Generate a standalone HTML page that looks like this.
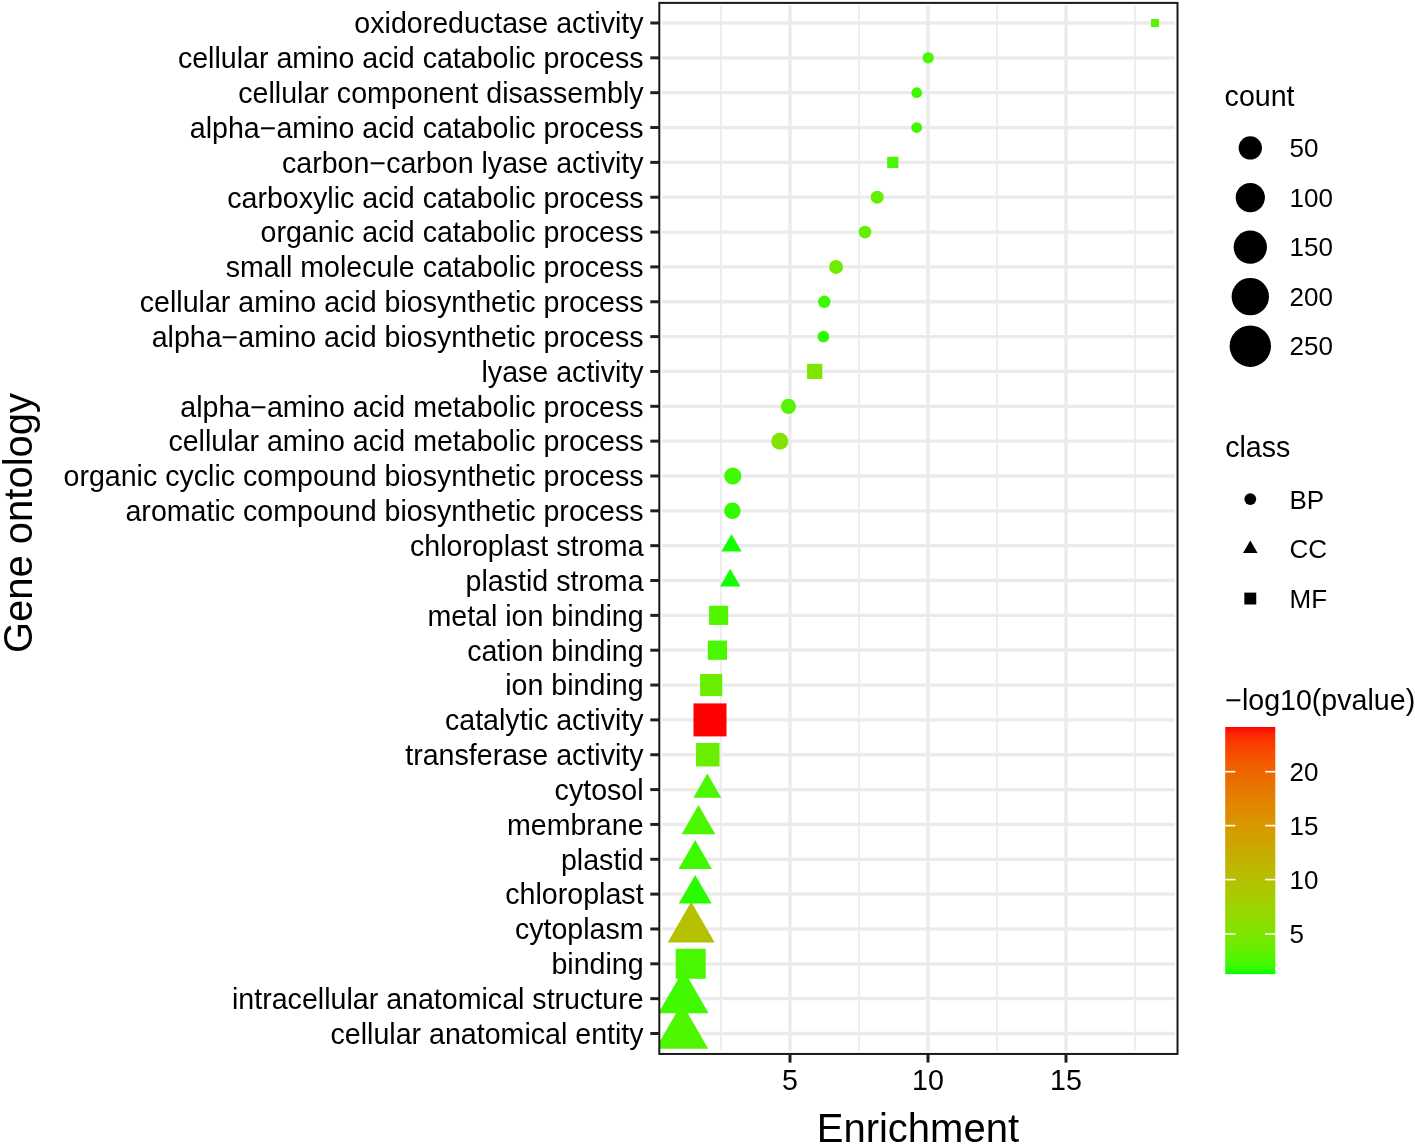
<!DOCTYPE html><html><head><meta charset="utf-8"><style>html,body{margin:0;padding:0;background:#fff;overflow:hidden;width:1415px;height:1145px;}svg{display:block;will-change:transform;}text{font-family:"Liberation Sans",sans-serif;fill:#000;}</style></head><body>
<svg width="1415" height="1145" viewBox="0 0 1415 1145">
<rect width="1415" height="1145" fill="#fff"/>
<defs><clipPath id="pc"><rect x="659.3" y="2.9" width="518.2" height="1051.05"/></clipPath>
<clipPath id="gc"><rect x="662.2" y="5.1" width="512.5" height="1045.6000000000001"/></clipPath>
<linearGradient id="cb" x1="0" y1="0" x2="0" y2="1"><stop offset="0.000" stop-color="#FF0000"/><stop offset="0.020" stop-color="#FD1E00"/><stop offset="0.040" stop-color="#FC2D00"/><stop offset="0.060" stop-color="#FA3900"/><stop offset="0.080" stop-color="#F84200"/><stop offset="0.100" stop-color="#F74A00"/><stop offset="0.120" stop-color="#F55100"/><stop offset="0.140" stop-color="#F35800"/><stop offset="0.160" stop-color="#F15E00"/><stop offset="0.180" stop-color="#EF6400"/><stop offset="0.200" stop-color="#ED6A00"/><stop offset="0.220" stop-color="#EB6F00"/><stop offset="0.240" stop-color="#E97400"/><stop offset="0.260" stop-color="#E77900"/><stop offset="0.280" stop-color="#E57E00"/><stop offset="0.300" stop-color="#E38200"/><stop offset="0.320" stop-color="#E08700"/><stop offset="0.340" stop-color="#DE8B00"/><stop offset="0.360" stop-color="#DC8F00"/><stop offset="0.380" stop-color="#D99400"/><stop offset="0.400" stop-color="#D79800"/><stop offset="0.420" stop-color="#D49C00"/><stop offset="0.440" stop-color="#D1A000"/><stop offset="0.460" stop-color="#CEA300"/><stop offset="0.480" stop-color="#CCA700"/><stop offset="0.500" stop-color="#C9AB00"/><stop offset="0.520" stop-color="#C5AF00"/><stop offset="0.540" stop-color="#C2B200"/><stop offset="0.560" stop-color="#BFB600"/><stop offset="0.580" stop-color="#BBBA00"/><stop offset="0.600" stop-color="#B8BD00"/><stop offset="0.620" stop-color="#B4C100"/><stop offset="0.640" stop-color="#B0C400"/><stop offset="0.660" stop-color="#ACC800"/><stop offset="0.680" stop-color="#A8CB00"/><stop offset="0.700" stop-color="#A4CE00"/><stop offset="0.720" stop-color="#9FD200"/><stop offset="0.740" stop-color="#9AD500"/><stop offset="0.760" stop-color="#95D800"/><stop offset="0.780" stop-color="#90DC00"/><stop offset="0.800" stop-color="#8ADF00"/><stop offset="0.820" stop-color="#84E200"/><stop offset="0.840" stop-color="#7DE600"/><stop offset="0.860" stop-color="#76E900"/><stop offset="0.880" stop-color="#6EEC00"/><stop offset="0.900" stop-color="#65EF00"/><stop offset="0.920" stop-color="#5BF200"/><stop offset="0.940" stop-color="#50F600"/><stop offset="0.960" stop-color="#41F900"/><stop offset="0.980" stop-color="#2EFC00"/><stop offset="1.000" stop-color="#00FF00"/></linearGradient></defs>
<g clip-path="url(#gc)"><line x1="721.00" y1="2.9" x2="721.00" y2="1053.95" stroke="#ebebeb" stroke-width="1.7"/><line x1="859.00" y1="2.9" x2="859.00" y2="1053.95" stroke="#ebebeb" stroke-width="1.7"/><line x1="997.00" y1="2.9" x2="997.00" y2="1053.95" stroke="#ebebeb" stroke-width="1.7"/><line x1="1135.00" y1="2.9" x2="1135.00" y2="1053.95" stroke="#ebebeb" stroke-width="1.7"/><line x1="790.00" y1="2.9" x2="790.00" y2="1053.95" stroke="#ebebeb" stroke-width="3.3"/><line x1="928.00" y1="2.9" x2="928.00" y2="1053.95" stroke="#ebebeb" stroke-width="3.3"/><line x1="1066.00" y1="2.9" x2="1066.00" y2="1053.95" stroke="#ebebeb" stroke-width="3.3"/><line x1="659.3" y1="23.00" x2="1177.5" y2="23.00" stroke="#ebebeb" stroke-width="3.3"/><line x1="659.3" y1="57.84" x2="1177.5" y2="57.84" stroke="#ebebeb" stroke-width="3.3"/><line x1="659.3" y1="92.69" x2="1177.5" y2="92.69" stroke="#ebebeb" stroke-width="3.3"/><line x1="659.3" y1="127.53" x2="1177.5" y2="127.53" stroke="#ebebeb" stroke-width="3.3"/><line x1="659.3" y1="162.38" x2="1177.5" y2="162.38" stroke="#ebebeb" stroke-width="3.3"/><line x1="659.3" y1="197.22" x2="1177.5" y2="197.22" stroke="#ebebeb" stroke-width="3.3"/><line x1="659.3" y1="232.07" x2="1177.5" y2="232.07" stroke="#ebebeb" stroke-width="3.3"/><line x1="659.3" y1="266.91" x2="1177.5" y2="266.91" stroke="#ebebeb" stroke-width="3.3"/><line x1="659.3" y1="301.76" x2="1177.5" y2="301.76" stroke="#ebebeb" stroke-width="3.3"/><line x1="659.3" y1="336.61" x2="1177.5" y2="336.61" stroke="#ebebeb" stroke-width="3.3"/><line x1="659.3" y1="371.45" x2="1177.5" y2="371.45" stroke="#ebebeb" stroke-width="3.3"/><line x1="659.3" y1="406.29" x2="1177.5" y2="406.29" stroke="#ebebeb" stroke-width="3.3"/><line x1="659.3" y1="441.14" x2="1177.5" y2="441.14" stroke="#ebebeb" stroke-width="3.3"/><line x1="659.3" y1="475.99" x2="1177.5" y2="475.99" stroke="#ebebeb" stroke-width="3.3"/><line x1="659.3" y1="510.83" x2="1177.5" y2="510.83" stroke="#ebebeb" stroke-width="3.3"/><line x1="659.3" y1="545.67" x2="1177.5" y2="545.67" stroke="#ebebeb" stroke-width="3.3"/><line x1="659.3" y1="580.52" x2="1177.5" y2="580.52" stroke="#ebebeb" stroke-width="3.3"/><line x1="659.3" y1="615.37" x2="1177.5" y2="615.37" stroke="#ebebeb" stroke-width="3.3"/><line x1="659.3" y1="650.21" x2="1177.5" y2="650.21" stroke="#ebebeb" stroke-width="3.3"/><line x1="659.3" y1="685.05" x2="1177.5" y2="685.05" stroke="#ebebeb" stroke-width="3.3"/><line x1="659.3" y1="719.90" x2="1177.5" y2="719.90" stroke="#ebebeb" stroke-width="3.3"/><line x1="659.3" y1="754.75" x2="1177.5" y2="754.75" stroke="#ebebeb" stroke-width="3.3"/><line x1="659.3" y1="789.59" x2="1177.5" y2="789.59" stroke="#ebebeb" stroke-width="3.3"/><line x1="659.3" y1="824.43" x2="1177.5" y2="824.43" stroke="#ebebeb" stroke-width="3.3"/><line x1="659.3" y1="859.28" x2="1177.5" y2="859.28" stroke="#ebebeb" stroke-width="3.3"/><line x1="659.3" y1="894.12" x2="1177.5" y2="894.12" stroke="#ebebeb" stroke-width="3.3"/><line x1="659.3" y1="928.97" x2="1177.5" y2="928.97" stroke="#ebebeb" stroke-width="3.3"/><line x1="659.3" y1="963.81" x2="1177.5" y2="963.81" stroke="#ebebeb" stroke-width="3.3"/><line x1="659.3" y1="998.66" x2="1177.5" y2="998.66" stroke="#ebebeb" stroke-width="3.3"/><line x1="659.3" y1="1033.51" x2="1177.5" y2="1033.51" stroke="#ebebeb" stroke-width="3.3"/></g>
<g clip-path="url(#pc)"><rect x="1151.00" y="19.00" width="8.00" height="8.00" fill="#59F300"/><circle cx="928.20" cy="57.84" r="5.65" fill="#49F700"/><circle cx="916.70" cy="92.69" r="5.35" fill="#3DFA00"/><circle cx="916.70" cy="127.53" r="5.40" fill="#3DFA00"/><rect x="887.20" y="156.78" width="11.20" height="11.20" fill="#49F700"/><circle cx="877.20" cy="197.22" r="6.50" fill="#65EF00"/><circle cx="865.00" cy="232.07" r="6.35" fill="#65EF00"/><circle cx="836.10" cy="266.91" r="7.00" fill="#6EEC00"/><circle cx="824.30" cy="301.76" r="6.20" fill="#3DFA00"/><circle cx="823.40" cy="336.61" r="5.90" fill="#2EFC00"/><rect x="807.10" y="363.85" width="15.20" height="15.20" fill="#81E400"/><circle cx="788.40" cy="406.29" r="7.60" fill="#56F400"/><circle cx="779.80" cy="441.14" r="8.50" fill="#84E200"/><circle cx="732.80" cy="475.99" r="8.60" fill="#41F900"/><circle cx="732.40" cy="510.83" r="8.25" fill="#33FB00"/><polygon points="731.50,534.00 741.61,551.51 721.39,551.51" fill="#13FE00"/><polygon points="730.20,568.79 740.36,586.38 720.04,586.38" fill="#13FE00"/><rect x="709.05" y="605.82" width="19.10" height="19.10" fill="#50F600"/><rect x="707.80" y="640.61" width="19.20" height="19.20" fill="#49F700"/><rect x="700.15" y="674.00" width="22.10" height="22.10" fill="#6AEE00"/><rect x="693.50" y="703.40" width="33.00" height="33.00" fill="#FF0000"/><rect x="696.05" y="743.00" width="23.50" height="23.50" fill="#6AEE00"/><polygon points="707.30,773.49 721.24,797.64 693.36,797.64" fill="#4CF600"/><polygon points="698.50,805.03 715.30,834.13 681.70,834.13" fill="#4CF600"/><polygon points="695.20,839.98 711.91,868.93 678.49,868.93" fill="#3DFA00"/><polygon points="695.20,875.12 711.65,903.62 678.75,903.62" fill="#27FD00"/><polygon points="691.20,901.87 714.67,942.52 667.73,942.52" fill="#B4C100"/><rect x="675.70" y="948.81" width="30.00" height="30.00" fill="#49F700"/><polygon points="683.50,969.66 708.61,1013.16 658.39,1013.16" fill="#41F900"/><polygon points="681.90,1003.11 708.23,1048.71 655.57,1048.71" fill="#50F600"/></g>
<rect x="659.3" y="2.9" width="518.2" height="1051.05" fill="none" stroke="#1a1a1a" stroke-width="2.0"/>
<line x1="650.3" y1="23.00" x2="659.3" y2="23.00" stroke="#1f1f1f" stroke-width="3"/><text x="643.6" y="33.30" font-size="28.6" text-anchor="end">oxidoreductase activity</text><line x1="650.3" y1="57.84" x2="659.3" y2="57.84" stroke="#1f1f1f" stroke-width="3"/><text x="643.6" y="68.14" font-size="28.6" text-anchor="end">cellular amino acid catabolic process</text><line x1="650.3" y1="92.69" x2="659.3" y2="92.69" stroke="#1f1f1f" stroke-width="3"/><text x="643.6" y="102.99" font-size="28.6" text-anchor="end">cellular component disassembly</text><line x1="650.3" y1="127.53" x2="659.3" y2="127.53" stroke="#1f1f1f" stroke-width="3"/><text x="643.6" y="137.84" font-size="28.6" text-anchor="end">alpha−amino acid catabolic process</text><line x1="650.3" y1="162.38" x2="659.3" y2="162.38" stroke="#1f1f1f" stroke-width="3"/><text x="643.6" y="172.68" font-size="28.6" text-anchor="end">carbon−carbon lyase activity</text><line x1="650.3" y1="197.22" x2="659.3" y2="197.22" stroke="#1f1f1f" stroke-width="3"/><text x="643.6" y="207.53" font-size="28.6" text-anchor="end">carboxylic acid catabolic process</text><line x1="650.3" y1="232.07" x2="659.3" y2="232.07" stroke="#1f1f1f" stroke-width="3"/><text x="643.6" y="242.37" font-size="28.6" text-anchor="end">organic acid catabolic process</text><line x1="650.3" y1="266.91" x2="659.3" y2="266.91" stroke="#1f1f1f" stroke-width="3"/><text x="643.6" y="277.21" font-size="28.6" text-anchor="end">small molecule catabolic process</text><line x1="650.3" y1="301.76" x2="659.3" y2="301.76" stroke="#1f1f1f" stroke-width="3"/><text x="643.6" y="312.06" font-size="28.6" text-anchor="end">cellular amino acid biosynthetic process</text><line x1="650.3" y1="336.61" x2="659.3" y2="336.61" stroke="#1f1f1f" stroke-width="3"/><text x="643.6" y="346.91" font-size="28.6" text-anchor="end">alpha−amino acid biosynthetic process</text><line x1="650.3" y1="371.45" x2="659.3" y2="371.45" stroke="#1f1f1f" stroke-width="3"/><text x="643.6" y="381.75" font-size="28.6" text-anchor="end">lyase activity</text><line x1="650.3" y1="406.29" x2="659.3" y2="406.29" stroke="#1f1f1f" stroke-width="3"/><text x="643.6" y="416.59" font-size="28.6" text-anchor="end">alpha−amino acid metabolic process</text><line x1="650.3" y1="441.14" x2="659.3" y2="441.14" stroke="#1f1f1f" stroke-width="3"/><text x="643.6" y="451.44" font-size="28.6" text-anchor="end">cellular amino acid metabolic process</text><line x1="650.3" y1="475.99" x2="659.3" y2="475.99" stroke="#1f1f1f" stroke-width="3"/><text x="643.6" y="486.29" font-size="28.6" text-anchor="end">organic cyclic compound biosynthetic process</text><line x1="650.3" y1="510.83" x2="659.3" y2="510.83" stroke="#1f1f1f" stroke-width="3"/><text x="643.6" y="521.13" font-size="28.6" text-anchor="end">aromatic compound biosynthetic process</text><line x1="650.3" y1="545.67" x2="659.3" y2="545.67" stroke="#1f1f1f" stroke-width="3"/><text x="643.6" y="555.97" font-size="28.6" text-anchor="end">chloroplast stroma</text><line x1="650.3" y1="580.52" x2="659.3" y2="580.52" stroke="#1f1f1f" stroke-width="3"/><text x="643.6" y="590.82" font-size="28.6" text-anchor="end">plastid stroma</text><line x1="650.3" y1="615.37" x2="659.3" y2="615.37" stroke="#1f1f1f" stroke-width="3"/><text x="643.6" y="625.66" font-size="28.6" text-anchor="end">metal ion binding</text><line x1="650.3" y1="650.21" x2="659.3" y2="650.21" stroke="#1f1f1f" stroke-width="3"/><text x="643.6" y="660.51" font-size="28.6" text-anchor="end">cation binding</text><line x1="650.3" y1="685.05" x2="659.3" y2="685.05" stroke="#1f1f1f" stroke-width="3"/><text x="643.6" y="695.35" font-size="28.6" text-anchor="end">ion binding</text><line x1="650.3" y1="719.90" x2="659.3" y2="719.90" stroke="#1f1f1f" stroke-width="3"/><text x="643.6" y="730.20" font-size="28.6" text-anchor="end">catalytic activity</text><line x1="650.3" y1="754.75" x2="659.3" y2="754.75" stroke="#1f1f1f" stroke-width="3"/><text x="643.6" y="765.04" font-size="28.6" text-anchor="end">transferase activity</text><line x1="650.3" y1="789.59" x2="659.3" y2="789.59" stroke="#1f1f1f" stroke-width="3"/><text x="643.6" y="799.89" font-size="28.6" text-anchor="end">cytosol</text><line x1="650.3" y1="824.43" x2="659.3" y2="824.43" stroke="#1f1f1f" stroke-width="3"/><text x="643.6" y="834.73" font-size="28.6" text-anchor="end">membrane</text><line x1="650.3" y1="859.28" x2="659.3" y2="859.28" stroke="#1f1f1f" stroke-width="3"/><text x="643.6" y="869.58" font-size="28.6" text-anchor="end">plastid</text><line x1="650.3" y1="894.12" x2="659.3" y2="894.12" stroke="#1f1f1f" stroke-width="3"/><text x="643.6" y="904.42" font-size="28.6" text-anchor="end">chloroplast</text><line x1="650.3" y1="928.97" x2="659.3" y2="928.97" stroke="#1f1f1f" stroke-width="3"/><text x="643.6" y="939.27" font-size="28.6" text-anchor="end">cytoplasm</text><line x1="650.3" y1="963.81" x2="659.3" y2="963.81" stroke="#1f1f1f" stroke-width="3"/><text x="643.6" y="974.11" font-size="28.6" text-anchor="end">binding</text><line x1="650.3" y1="998.66" x2="659.3" y2="998.66" stroke="#1f1f1f" stroke-width="3"/><text x="643.6" y="1008.96" font-size="28.6" text-anchor="end">intracellular anatomical structure</text><line x1="650.3" y1="1033.51" x2="659.3" y2="1033.51" stroke="#1f1f1f" stroke-width="3"/><text x="643.6" y="1043.81" font-size="28.6" text-anchor="end">cellular anatomical entity</text><line x1="790.00" y1="1053.95" x2="790.00" y2="1062.6" stroke="#1f1f1f" stroke-width="3"/><text x="790.00" y="1089.6" font-size="28.6" text-anchor="middle">5</text><line x1="928.00" y1="1053.95" x2="928.00" y2="1062.6" stroke="#1f1f1f" stroke-width="3"/><text x="928.00" y="1089.6" font-size="28.6" text-anchor="middle">10</text><line x1="1066.00" y1="1053.95" x2="1066.00" y2="1062.6" stroke="#1f1f1f" stroke-width="3"/><text x="1066.00" y="1089.6" font-size="28.6" text-anchor="middle">15</text>
<text x="917.9" y="1141.6" font-size="40" text-anchor="middle">Enrichment</text>
<text transform="translate(32,523) rotate(-90)" x="0" y="0" font-size="40" text-anchor="middle">Gene ontology</text>
<text x="1224.6" y="106" font-size="28.6">count</text><circle cx="1250.3" cy="147.9" r="11.65" fill="#000"/><text x="1289.5" y="157.1" font-size="26">50</text><circle cx="1250.3" cy="197.6" r="14.6" fill="#000"/><text x="1289.5" y="206.8" font-size="26">100</text><circle cx="1250.3" cy="247.2" r="16.65" fill="#000"/><text x="1289.5" y="256.4" font-size="26">150</text><circle cx="1250.3" cy="296.6" r="18.7" fill="#000"/><text x="1289.5" y="305.8" font-size="26">200</text><circle cx="1250.3" cy="346.2" r="20.7" fill="#000"/><text x="1289.5" y="355.4" font-size="26">250</text><text x="1225.2" y="457.4" font-size="28.6">class</text><circle cx="1250.3" cy="499.1" r="5.95" fill="#000"/><text x="1289.5" y="508.5" font-size="26">BP</text><polygon points="1250.3,540.50 1257.57,553.10 1243.03,553.10" fill="#000"/><text x="1289.5" y="558.1" font-size="26">CC</text><rect x="1244.35" y="592.6" width="11.9" height="11.9" fill="#000"/><text x="1289.5" y="607.7" font-size="26">MF</text><text x="1225.2" y="709.6" font-size="28.6">−log10(pvalue)</text><rect x="1225.2" y="727.0" width="50.1" height="247.1" fill="url(#cb)"/><line x1="1225.2" y1="934.0" x2="1235.4" y2="934.0" stroke="#fff" stroke-width="1.6"/><line x1="1265.1" y1="934.0" x2="1275.3" y2="934.0" stroke="#fff" stroke-width="1.6"/><text x="1289.5" y="943.3" font-size="26">5</text><line x1="1225.2" y1="879.6" x2="1235.4" y2="879.6" stroke="#fff" stroke-width="1.6"/><line x1="1265.1" y1="879.6" x2="1275.3" y2="879.6" stroke="#fff" stroke-width="1.6"/><text x="1289.5" y="888.9" font-size="26">10</text><line x1="1225.2" y1="825.6" x2="1235.4" y2="825.6" stroke="#fff" stroke-width="1.6"/><line x1="1265.1" y1="825.6" x2="1275.3" y2="825.6" stroke="#fff" stroke-width="1.6"/><text x="1289.5" y="834.9" font-size="26">15</text><line x1="1225.2" y1="771.7" x2="1235.4" y2="771.7" stroke="#fff" stroke-width="1.6"/><line x1="1265.1" y1="771.7" x2="1275.3" y2="771.7" stroke="#fff" stroke-width="1.6"/><text x="1289.5" y="781.0" font-size="26">20</text>
</svg></body></html>
